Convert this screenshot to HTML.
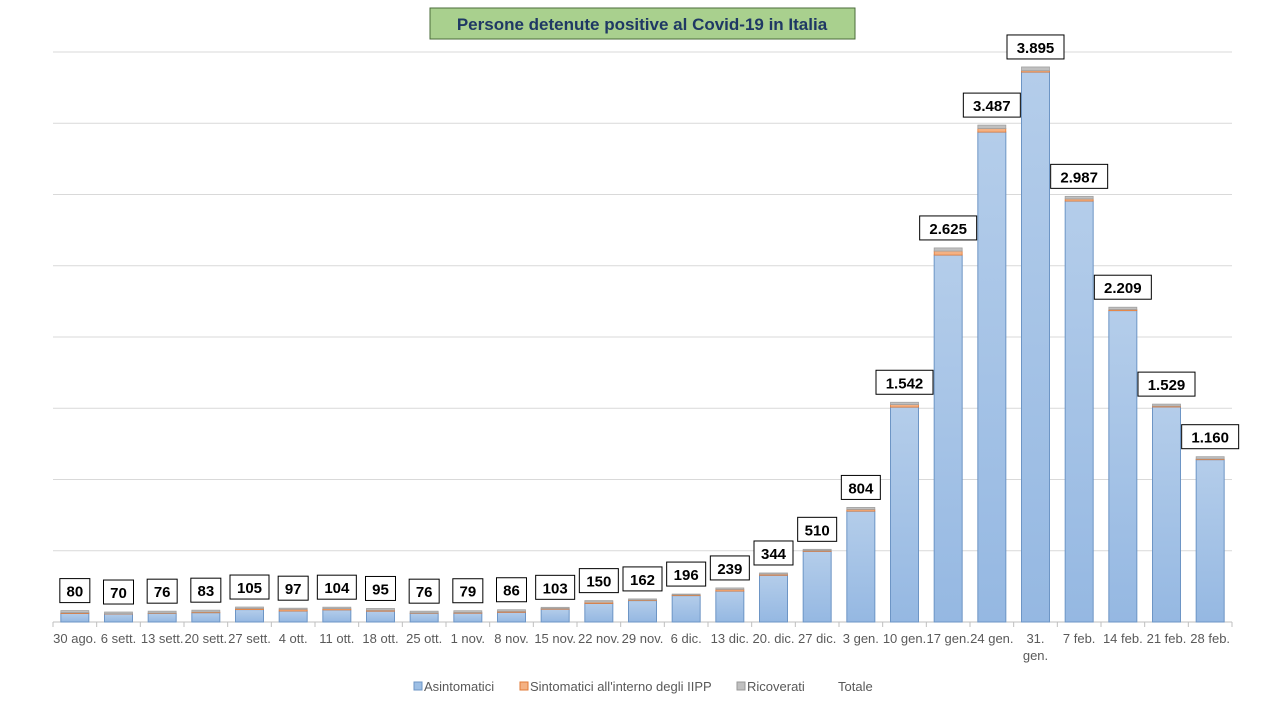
<!DOCTYPE html>
<html><head><meta charset="utf-8"><style>
body{margin:0;background:#fff;font-family:"Liberation Sans",sans-serif;}
svg text{font-family:"Liberation Sans",sans-serif;}
</style></head><body>
<svg width="1280" height="720" viewBox="0 0 1280 720">
<defs><linearGradient id="bg" x1="0" y1="0" x2="0" y2="1"><stop offset="0" stop-color="#b4cdea"/><stop offset="1" stop-color="#95b8e2"/></linearGradient></defs>
<g id="grid"></g><g id="bars"></g><g id="labels"></g><g id="xl"></g>
<g>
<rect x="430" y="8" width="425" height="31" fill="#a9d08e" stroke="#4a6b3a" stroke-width="1"/>
<text x="642" y="30" text-anchor="middle" font-size="17" font-weight="bold" fill="#1f3864">Persone  detenute  positive  al  Covid-19  in  Italia</text></g>
<g font-size="13" fill="#595959">
<g><rect x="414" y="682" width="8" height="8" fill="#9dbfe5" stroke="#6d95c5"/><text x="424" y="691">Asintomatici</text></g>
<g><rect x="520" y="682" width="8" height="8" fill="#f4b183" stroke="#e07b39"/><text x="530" y="691">Sintomatici all'interno degli IIPP</text></g>
<g><rect x="737" y="682" width="8" height="8" fill="#c0c0c0" stroke="#999"/><text x="747" y="691">Ricoverati</text></g>
<g><text x="838" y="691">Totale</text></g>
</g>
</svg>
<script>
const categories=["30 ago.","6 sett.","13 sett.","20 sett.","27 sett.","4 ott.","11 ott.","18 ott.","25 ott.","1 nov.","8 nov.","15 nov.","22 nov.","29 nov.","6 dic.","13 dic.","20. dic.","27 dic.","3 gen.","10 gen.","17 gen.","24 gen.","31. gen.","7 feb.","14 feb.","21 feb.","28 feb."];
const totals=[80,70,76,83,105,97,104,95,76,79,86,103,150,162,196,239,344,510,804,1542,2625,3487,3895,2987,2209,1529,1160];
const sintomatici=[6,2,3,5,8,12,9,7,3,5,7,5,10,4,5,12,8,6,12,18,28,25,10,15,8,6,5];
const ricoverati=[14,12,13,13,10,8,10,12,12,12,11,8,10,8,6,10,8,8,14,16,22,24,26,18,16,14,16];
const yTicks=[0,500,1000,1500,2000,2500,3000,3500,4000];
const X0=53,X1=1232,Y0=622,YT=52,MAX=4000;
const band=(X1-X0)/categories.length;
const y=v=>Y0-(v/MAX)*(Y0-YT);
const cx=i=>X0+band*(i+0.5);
const NS="http://www.w3.org/2000/svg";
function mk(t,a,p){const e=document.createElementNS(NS,t);for(const k in a)e.setAttribute(k,a[k]);p.appendChild(e);return e;}
const g=document.getElementById('grid');
yTicks.forEach(v=>{const l=mk('line',{x1:X0,x2:X1,y1:y(v),y2:y(v),stroke:v?'#d9d9d9':'#bfbfbf'},g);

});
for(let i=0;i<=categories.length;i++){const t=mk('line',{x1:X0+band*i,x2:X0+band*i,y1:Y0,y2:Y0+5,stroke:'#bfbfbf'},g);

}
const b=document.getElementById('bars'),lb=document.getElementById('labels'),xl=document.getElementById('xl');
const bw=28;
categories.forEach((c,i)=>{
const a=totals[i]-sintomatici[i]-ricoverati[i];
const x=cx(i)-bw/2;
const r1=mk('rect',{x:x,y:y(a),width:bw,height:Y0-y(a),fill:'url(#bg)',stroke:'#6d95c5','stroke-width':1},b);


const r2=mk('rect',{x:x,y:y(a+sintomatici[i]),width:bw,height:y(a)-y(a+sintomatici[i]),fill:'#f4b183',stroke:'#e07b39','stroke-width':0.8},b);


const r3=mk('rect',{x:x,y:y(totals[i]),width:bw,height:y(a+sintomatici[i])-y(totals[i]),fill:'#c0c0c0',stroke:'#a0a0a0','stroke-width':0.8},b);


const txt=totals[i].toLocaleString('de-DE');
const w=txt.length*9+12, ty=y(totals[i])-8;
const bx=mk('rect',{x:cx(i)-w/2,y:ty-24,width:w,height:24,fill:'#fff',stroke:'#000'},lb);


const t=mk('text',{x:cx(i),y:ty-6,'text-anchor':'middle','font-size':15,'font-weight':'bold',fill:'#000'},lb);
t.textContent=txt;


const parts=c==="31. gen."?["31.","gen."]:[c];
parts.forEach((p,k)=>{const xt=mk('text',{x:cx(i),y:643+k*17,'text-anchor':'middle','font-size':13,fill:'#595959'},xl);
xt.textContent=p;

});
});
</script>
</body></html>
